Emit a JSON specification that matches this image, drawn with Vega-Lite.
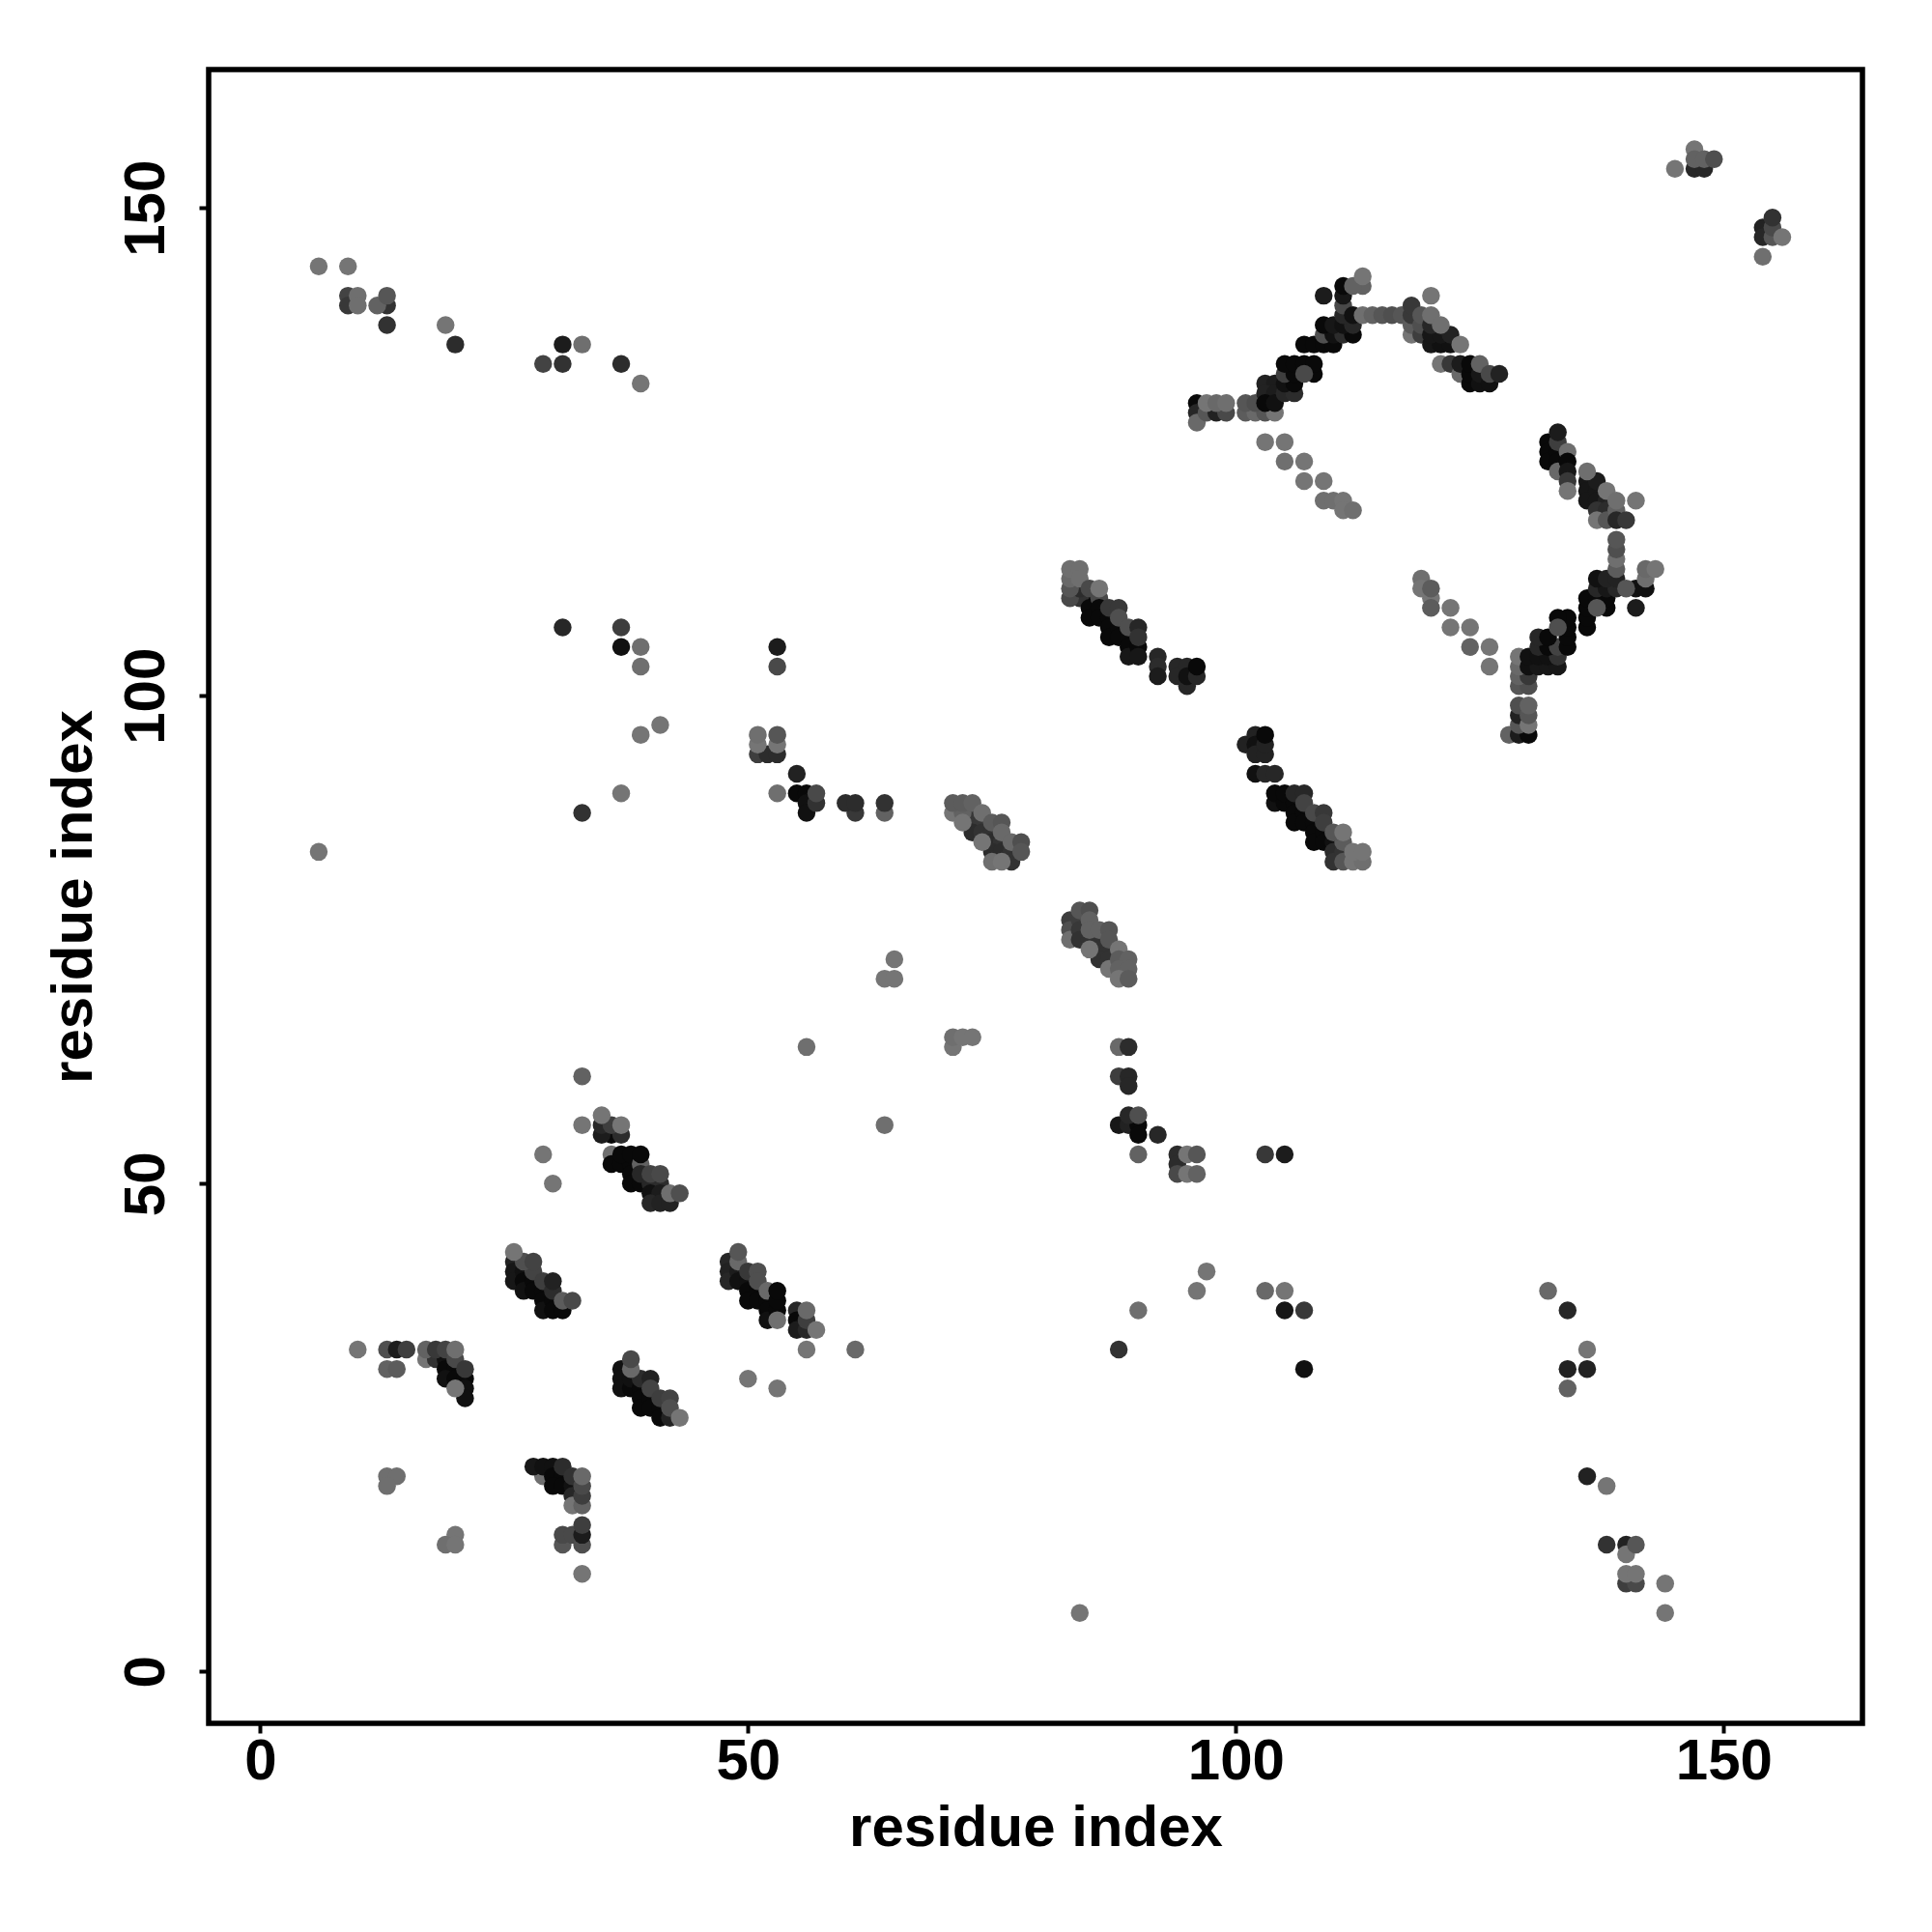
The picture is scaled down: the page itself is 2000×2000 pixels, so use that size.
{"$schema":"https://vega.github.io/schema/vega-lite/v6.json","width":1712,"height":1712,"autosize":"none","padding":{"left":216,"top":72,"right":72,"bottom":216},"background":"white","config":{"view":{"stroke":"black","strokeWidth":5.5},"font":"Liberation Sans"},
"data":{"values":[
{"x":6,"y":144,"p":0.05},{"x":9,"y":144,"p":0.05},{"x":9,"y":141,"p":0.45},{"x":9,"y":140,"p":0.55},{"x":10,"y":141,"p":0.1},{"x":10,"y":140,"p":0.1},{"x":13,"y":140,"p":0.6},{"x":13,"y":138,"p":0.6},{"x":12,"y":140,"p":0.2},{"x":13,"y":141,"p":0.3},{"x":19,"y":138,"p":0.05},{"x":20,"y":136,"p":0.65},{"x":29,"y":134,"p":0.45},{"x":31,"y":136,"p":0.8},{"x":31,"y":134,"p":0.6},{"x":33,"y":136,"p":0.1},{"x":37,"y":134,"p":0.65},{"x":39,"y":132,"p":0.05},
{"x":31,"y":107,"p":0.7},{"x":37,"y":107,"p":0.5},{"x":37,"y":105,"p":0.9},{"x":39,"y":105,"p":0.1},{"x":39,"y":103,"p":0.1},{"x":53,"y":105,"p":0.8},{"x":53,"y":103,"p":0.4},{"x":39,"y":96,"p":0.05},{"x":41,"y":97,"p":0.05},{"x":37,"y":90,"p":0.05},{"x":33,"y":88,"p":0.6},{"x":6,"y":84,"p":0.05},
{"x":51,"y":94,"p":0.5},{"x":52,"y":94,"p":0.65},{"x":53,"y":94,"p":0.65},{"x":51,"y":95,"p":0.05},{"x":53,"y":95,"p":0.05},{"x":51,"y":96,"p":0.1},{"x":53,"y":96,"p":0.3},
{"x":55,"y":92,"p":0.75},{"x":53,"y":90,"p":0.1},{"x":55,"y":90,"p":0.95},{"x":56,"y":90,"p":0.95},{"x":56,"y":89,"p":0.9},{"x":56,"y":88,"p":0.9},{"x":57,"y":89,"p":0.6},{"x":57,"y":90,"p":0.4},{"x":61,"y":88,"p":0.55},{"x":60,"y":89,"p":0.65},{"x":61,"y":89,"p":0.65},{"x":64,"y":88,"p":0.2},{"x":64,"y":89,"p":0.6},
{"x":73,"y":88,"p":0.6},{"x":73,"y":87,"p":0.55},{"x":74,"y":87,"p":0.55},{"x":73,"y":86,"p":0.65},{"x":74,"y":86,"p":0.6},{"x":75,"y":86,"p":0.6},{"x":75,"y":85,"p":0.65},{"x":76,"y":85,"p":0.6},{"x":75,"y":84,"p":0.65},{"x":76,"y":84,"p":0.65},{"x":77,"y":84,"p":0.6},{"x":77,"y":83,"p":0.6},{"x":71,"y":88,"p":0.05},{"x":72,"y":88,"p":0.2},{"x":72,"y":87,"p":0.05},{"x":71,"y":89,"p":0.25},{"x":72,"y":89,"p":0.25},{"x":73,"y":89,"p":0.2},{"x":74,"y":88,"p":0.1},{"x":75,"y":87,"p":0.25},{"x":76,"y":87,"p":0.3},{"x":76,"y":86,"p":0.15},{"x":74,"y":85,"p":0.05},{"x":77,"y":85,"p":0.15},{"x":78,"y":85,"p":0.35},{"x":78,"y":84,"p":0.3},{"x":75,"y":83,"p":0.1},{"x":76,"y":83,"p":0.05},
{"x":71,"y":64,"p":0.05},{"x":71,"y":65,"p":0.1},{"x":72,"y":65,"p":0.05},{"x":73,"y":65,"p":0.05},{"x":64,"y":71,"p":0.05},{"x":65,"y":71,"p":0.05},{"x":65,"y":73,"p":0.05},{"x":56,"y":64,"p":0.1},{"x":64,"y":56,"p":0.1},
{"x":83,"y":77,"p":0.5},{"x":83,"y":76,"p":0.35},{"x":83,"y":75,"p":0.1},{"x":84,"y":77,"p":0.5},{"x":84,"y":76,"p":0.55},{"x":84,"y":75,"p":0.6},{"x":85,"y":75,"p":0.6},{"x":86,"y":75,"p":0.6},{"x":86,"y":74,"p":0.6},{"x":87,"y":74,"p":0.6},{"x":86,"y":73,"p":0.6},{"x":87,"y":73,"p":0.6},{"x":84,"y":78,"p":0.3},{"x":85,"y":78,"p":0.35},{"x":85,"y":77,"p":0.2},{"x":85,"y":76,"p":0.2},{"x":86,"y":76,"p":0.2},{"x":87,"y":76,"p":0.3},{"x":87,"y":75,"p":0.3},{"x":85,"y":74,"p":0.05},{"x":88,"y":74,"p":0.05},{"x":87,"y":72,"p":0.05},{"x":88,"y":73,"p":0.25},{"x":89,"y":73,"p":0.2},{"x":88,"y":72,"p":0.2},{"x":89,"y":72,"p":0.2},{"x":88,"y":71,"p":0.05},{"x":89,"y":71,"p":0.25},
{"x":88,"y":64,"p":0.15},{"x":89,"y":64,"p":0.65},{"x":88,"y":61,"p":0.5},{"x":89,"y":61,"p":0.7},{"x":89,"y":60,"p":0.7},{"x":88,"y":56,"p":0.85},{"x":89,"y":56,"p":0.75},{"x":90,"y":56,"p":0.95},{"x":90,"y":55,"p":0.95},{"x":89,"y":57,"p":0.7},{"x":90,"y":57,"p":0.35},{"x":92,"y":55,"p":0.7},{"x":90,"y":53,"p":0.2},{"x":94,"y":53,"p":0.65},{"x":94,"y":52,"p":0.65},{"x":94,"y":51,"p":0.4},{"x":95,"y":53,"p":0.05},{"x":95,"y":51,"p":0.05},{"x":96,"y":53,"p":0.3},{"x":96,"y":51,"p":0.2},{"x":103,"y":53,"p":0.55},{"x":105,"y":53,"p":0.8},
{"x":97,"y":41,"p":0.05},{"x":96,"y":39,"p":0.05},{"x":90,"y":37,"p":0.1},{"x":88,"y":33,"p":0.6},{"x":103,"y":39,"p":0.15},{"x":105,"y":39,"p":0.05},{"x":105,"y":37,"p":0.85},{"x":107,"y":37,"p":0.55},{"x":107,"y":31,"p":0.9},{"x":132,"y":39,"p":0.15},{"x":134,"y":37,"p":0.7},{"x":134,"y":31,"p":0.75},{"x":136,"y":31,"p":0.75},{"x":136,"y":33,"p":0.05},{"x":134,"y":29,"p":0.2},{"x":136,"y":20,"p":0.75},{"x":138,"y":19,"p":0.05},{"x":138,"y":13,"p":0.6},{"x":140,"y":13,"p":0.75},{"x":140,"y":12,"p":0.05},{"x":141,"y":13,"p":0.3},{"x":140,"y":9,"p":0.5},{"x":141,"y":9,"p":0.4},{"x":140,"y":10,"p":0.05},{"x":141,"y":10,"p":0.05},{"x":144,"y":9,"p":0.05},{"x":144,"y":6,"p":0.05},{"x":84,"y":6,"p":0.05},
{"x":145,"y":154,"p":0.05},{"x":147,"y":154,"p":0.7},{"x":148,"y":154,"p":0.7},{"x":147,"y":156,"p":0.05},{"x":147,"y":155,"p":0.2},{"x":148,"y":155,"p":0.2},{"x":149,"y":155,"p":0.35},
{"x":154,"y":148,"p":0.75},{"x":154,"y":147,"p":0.7},{"x":155,"y":147,"p":0.3},{"x":155,"y":148,"p":0.4},{"x":155,"y":149,"p":0.6},{"x":156,"y":147,"p":0.05},{"x":154,"y":145,"p":0.1},
{"x":50,"y":30,"p":0.05},{"x":53,"y":29,"p":0.05},{"x":56,"y":33,"p":0.05},{"x":61,"y":33,"p":0.15},{"x":33,"y":61,"p":0.2},{"x":33,"y":56,"p":0.05},{"x":29,"y":53,"p":0.05},{"x":30,"y":50,"p":0.05},
{"x":36,"y":55,"p":0.95},{"x":35,"y":55,"p":0.8},{"x":35,"y":56,"p":0.7},{"x":37,"y":55,"p":0.65},{"x":36,"y":56,"p":0.5},{"x":37,"y":56,"p":0.05},{"x":35,"y":57,"p":0.05},
{"x":36,"y":53,"p":0.1},{"x":36,"y":52,"p":0.95},{"x":37,"y":52,"p":0.95},{"x":38,"y":52,"p":0.95},{"x":37,"y":53,"p":0.95},{"x":38,"y":53,"p":0.95},{"x":38,"y":51,"p":0.95},{"x":38,"y":50,"p":0.95},{"x":39,"y":50,"p":0.95},{"x":39,"y":52,"p":0.2},{"x":39,"y":53,"p":0.95},{"x":39,"y":51,"p":0.7},{"x":40,"y":50,"p":0.7},{"x":41,"y":50,"p":0.65},{"x":40,"y":49,"p":0.9},{"x":41,"y":49,"p":0.8},{"x":40,"y":48,"p":0.7},{"x":41,"y":48,"p":0.75},{"x":42,"y":48,"p":0.75},{"x":40,"y":51,"p":0.45},{"x":41,"y":51,"p":0.4},{"x":42,"y":49,"p":0.1},{"x":43,"y":49,"p":0.35},
{"x":48,"y":42,"p":0.7},{"x":48,"y":41,"p":0.75},{"x":48,"y":40,"p":0.7},{"x":49,"y":41,"p":0.8},{"x":49,"y":40,"p":0.9},{"x":50,"y":40,"p":0.9},{"x":50,"y":39,"p":0.95},{"x":50,"y":38,"p":0.95},{"x":51,"y":39,"p":0.95},{"x":51,"y":38,"p":0.95},{"x":52,"y":38,"p":0.95},{"x":52,"y":37,"p":0.95},{"x":52,"y":36,"p":0.9},{"x":53,"y":37,"p":0.95},{"x":53,"y":36,"p":0.1},{"x":49,"y":42,"p":0.15},{"x":50,"y":41,"p":0.55},{"x":51,"y":41,"p":0.35},{"x":51,"y":40,"p":0.35},{"x":49,"y":43,"p":0.3},{"x":52,"y":39,"p":0.15},{"x":53,"y":38,"p":0.95},{"x":53,"y":39,"p":0.95},
{"x":55,"y":37,"p":0.7},{"x":55,"y":36,"p":0.95},{"x":55,"y":35,"p":0.8},{"x":56,"y":35,"p":0.7},{"x":56,"y":36,"p":0.5},{"x":56,"y":37,"p":0.15},{"x":57,"y":35,"p":0.05},
{"x":37,"y":31,"p":0.9},{"x":37,"y":30,"p":0.9},{"x":37,"y":29,"p":0.9},{"x":38,"y":29,"p":0.95},{"x":38,"y":30,"p":0.9},{"x":39,"y":29,"p":0.95},{"x":39,"y":28,"p":0.95},{"x":39,"y":27,"p":0.95},{"x":40,"y":28,"p":0.95},{"x":40,"y":27,"p":0.95},{"x":41,"y":27,"p":0.95},{"x":41,"y":26,"p":0.95},{"x":42,"y":26,"p":0.75},{"x":39,"y":30,"p":0.65},{"x":40,"y":30,"p":0.75},{"x":40,"y":29,"p":0.45},{"x":41,"y":28,"p":0.5},{"x":42,"y":28,"p":0.45},{"x":42,"y":27,"p":0.35},{"x":38,"y":31,"p":0.15},{"x":38,"y":32,"p":0.4},{"x":43,"y":26,"p":0.05},
{"x":10,"y":33,"p":0.05},{"x":13,"y":33,"p":0.35},{"x":14,"y":33,"p":0.8},{"x":15,"y":33,"p":0.5},{"x":13,"y":31,"p":0.2},{"x":14,"y":31,"p":0.25},{"x":17,"y":32,"p":0.05},{"x":18,"y":32,"p":0.6},{"x":19,"y":32,"p":0.9},{"x":17,"y":33,"p":0.2},{"x":18,"y":33,"p":0.55},{"x":19,"y":33,"p":0.45},{"x":19,"y":31,"p":0.95},{"x":20,"y":31,"p":0.95},{"x":19,"y":30,"p":0.9},{"x":20,"y":30,"p":0.95},{"x":21,"y":30,"p":0.95},{"x":21,"y":29,"p":0.9},{"x":21,"y":28,"p":0.9},{"x":20,"y":29,"p":0.05},{"x":20,"y":32,"p":0.4},{"x":21,"y":31,"p":0.55},{"x":20,"y":33,"p":0.1},
{"x":26,"y":42,"p":0.75},{"x":26,"y":41,"p":0.85},{"x":26,"y":40,"p":0.85},{"x":27,"y":41,"p":0.9},{"x":27,"y":40,"p":0.95},{"x":27,"y":39,"p":0.9},{"x":28,"y":40,"p":0.95},{"x":28,"y":39,"p":0.95},{"x":29,"y":39,"p":0.95},{"x":29,"y":38,"p":0.95},{"x":29,"y":37,"p":0.9},{"x":30,"y":38,"p":0.95},{"x":30,"y":37,"p":0.95},{"x":31,"y":37,"p":0.95},{"x":28,"y":41,"p":0.45},{"x":29,"y":40,"p":0.5},{"x":30,"y":39,"p":0.65},{"x":30,"y":40,"p":0.75},{"x":27,"y":42,"p":0.35},{"x":28,"y":42,"p":0.45},{"x":26,"y":43,"p":0.05},{"x":31,"y":38,"p":0.25},{"x":32,"y":38,"p":0.4},
{"x":29,"y":20,"p":0.1},{"x":28,"y":21,"p":0.85},{"x":29,"y":21,"p":0.9},{"x":30,"y":21,"p":0.9},{"x":30,"y":20,"p":0.95},{"x":31,"y":20,"p":0.95},{"x":30,"y":19,"p":0.95},{"x":31,"y":19,"p":0.95},{"x":32,"y":19,"p":0.9},{"x":31,"y":21,"p":0.65},{"x":32,"y":20,"p":0.6},{"x":32,"y":18,"p":0.7},{"x":32,"y":17,"p":0.05},{"x":33,"y":17,"p":0.2},{"x":33,"y":18,"p":0.5},{"x":33,"y":19,"p":0.4},{"x":33,"y":20,"p":0.15},
{"x":31,"y":13,"p":0.3},{"x":31,"y":14,"p":0.4},{"x":32,"y":14,"p":0.4},{"x":33,"y":13,"p":0.35},{"x":33,"y":14,"p":0.8},{"x":33,"y":15,"p":0.5},{"x":33,"y":10,"p":0.05},{"x":13,"y":20,"p":0.1},{"x":14,"y":20,"p":0.1},{"x":13,"y":19,"p":0.1},{"x":20,"y":14,"p":0.05},{"x":19,"y":13,"p":0.1},{"x":20,"y":13,"p":0.05},
{"x":96,"y":130,"p":0.95},{"x":96,"y":129,"p":0.7},{"x":96,"y":128,"p":0.15},{"x":97,"y":129,"p":0.3},{"x":98,"y":129,"p":0.75},{"x":99,"y":129,"p":0.4},{"x":97,"y":130,"p":0.05},{"x":98,"y":130,"p":0.15},{"x":99,"y":130,"p":0.1},{"x":101,"y":129,"p":0.25},{"x":102,"y":129,"p":0.15},{"x":103,"y":129,"p":0.3},{"x":101,"y":130,"p":0.3},{"x":102,"y":130,"p":0.35},{"x":104,"y":129,"p":0.05},{"x":103,"y":126,"p":0.05},{"x":105,"y":126,"p":0.05},
{"x":103,"y":132,"p":0.75},{"x":104,"y":132,"p":0.8},{"x":103,"y":131,"p":0.75},{"x":104,"y":131,"p":0.8},{"x":103,"y":130,"p":0.95},{"x":104,"y":130,"p":0.9},{"x":105,"y":131,"p":0.7},{"x":106,"y":131,"p":0.65},{"x":105,"y":132,"p":0.9},{"x":106,"y":132,"p":0.95},{"x":105,"y":133,"p":0.5},{"x":106,"y":133,"p":0.95},{"x":108,"y":133,"p":0.95},{"x":105,"y":134,"p":0.95},{"x":106,"y":134,"p":0.95},{"x":107,"y":134,"p":0.95},{"x":108,"y":134,"p":0.95},{"x":107,"y":133,"p":0.4},
{"x":107,"y":136,"p":0.95},{"x":108,"y":136,"p":0.95},{"x":109,"y":136,"p":0.95},{"x":110,"y":136,"p":0.95},{"x":109,"y":137,"p":0.35},{"x":110,"y":137,"p":0.9},{"x":111,"y":137,"p":0.65},{"x":112,"y":137,"p":0.95},{"x":109,"y":138,"p":0.95},{"x":110,"y":138,"p":0.85},{"x":111,"y":138,"p":0.9},{"x":112,"y":138,"p":0.7},{"x":111,"y":139,"p":0.7},{"x":111,"y":140,"p":0.4},{"x":111,"y":141,"p":0.85},{"x":111,"y":142,"p":0.95},{"x":109,"y":141,"p":0.8},{"x":112,"y":139,"p":0.9},{"x":113,"y":139,"p":0.1},{"x":114,"y":139,"p":0.2},{"x":115,"y":139,"p":0.3},{"x":116,"y":139,"p":0.35},{"x":117,"y":139,"p":0.3},{"x":113,"y":142,"p":0.2},{"x":112,"y":142,"p":0.2},{"x":113,"y":143,"p":0.05},
{"x":118,"y":137,"p":0.05},{"x":118,"y":138,"p":0.25},{"x":118,"y":139,"p":0.55},{"x":118,"y":140,"p":0.55},{"x":120,"y":141,"p":0.05},{"x":119,"y":137,"p":0.5},{"x":119,"y":138,"p":0.35},{"x":119,"y":139,"p":0.3},{"x":120,"y":136,"p":0.85},{"x":121,"y":136,"p":0.9},{"x":122,"y":136,"p":0.9},{"x":120,"y":137,"p":0.85},{"x":121,"y":137,"p":0.85},{"x":122,"y":137,"p":0.75},{"x":120,"y":138,"p":0.7},{"x":120,"y":139,"p":0.1},{"x":121,"y":138,"p":0.1},{"x":123,"y":136,"p":0.05},
{"x":121,"y":134,"p":0.05},{"x":122,"y":134,"p":0.55},{"x":123,"y":133,"p":0.15},{"x":123,"y":134,"p":0.8},{"x":124,"y":132,"p":0.95},{"x":124,"y":133,"p":0.95},{"x":124,"y":134,"p":0.95},{"x":125,"y":132,"p":0.9},{"x":125,"y":133,"p":0.85},{"x":126,"y":132,"p":0.9},{"x":125,"y":134,"p":0.2},{"x":126,"y":133,"p":0.4},{"x":127,"y":133,"p":0.75},
{"x":105,"y":124,"p":0.1},{"x":107,"y":124,"p":0.05},{"x":107,"y":122,"p":0.05},{"x":109,"y":122,"p":0.05},{"x":109,"y":120,"p":0.1},{"x":110,"y":120,"p":0.1},{"x":111,"y":120,"p":0.05},{"x":111,"y":119,"p":0.05},{"x":112,"y":119,"p":0.1},
{"x":119,"y":112,"p":0.1},{"x":119,"y":111,"p":0.05},{"x":120,"y":110,"p":0.05},{"x":120,"y":109,"p":0.25},{"x":120,"y":111,"p":0.25},{"x":122,"y":109,"p":0.05},{"x":122,"y":107,"p":0.05},{"x":124,"y":107,"p":0.05},{"x":124,"y":105,"p":0.2},{"x":126,"y":105,"p":0.05},{"x":126,"y":103,"p":0.05},
{"x":128,"y":96,"p":0.2},{"x":129,"y":96,"p":0.8},{"x":130,"y":96,"p":0.95},{"x":129,"y":97,"p":0.3},{"x":129,"y":98,"p":0.75},{"x":129,"y":99,"p":0.35},{"x":130,"y":97,"p":0.05},{"x":130,"y":98,"p":0.3},{"x":130,"y":99,"p":0.2},
{"x":129,"y":101,"p":0.3},{"x":130,"y":101,"p":0.35},{"x":129,"y":102,"p":0.2},{"x":130,"y":102,"p":0.55},{"x":129,"y":103,"p":0.15},{"x":129,"y":104,"p":0.05},{"x":130,"y":103,"p":0.9},{"x":131,"y":103,"p":0.85},{"x":132,"y":103,"p":0.85},{"x":133,"y":103,"p":0.85},{"x":130,"y":104,"p":0.9},{"x":131,"y":104,"p":0.9},{"x":132,"y":104,"p":0.9},{"x":133,"y":104,"p":0.6},{"x":131,"y":105,"p":0.7},{"x":132,"y":105,"p":0.95},{"x":133,"y":105,"p":0.45},{"x":134,"y":105,"p":0.95},{"x":131,"y":106,"p":0.7},{"x":132,"y":106,"p":0.95},{"x":134,"y":106,"p":0.95},{"x":134,"y":107,"p":0.95},{"x":134,"y":108,"p":0.95},{"x":133,"y":108,"p":0.95},{"x":133,"y":107,"p":0.35},
{"x":136,"y":107,"p":0.95},{"x":136,"y":108,"p":0.95},{"x":136,"y":109,"p":0.95},{"x":136,"y":110,"p":0.95},{"x":138,"y":109,"p":0.95},{"x":137,"y":110,"p":0.95},{"x":138,"y":110,"p":0.95},{"x":137,"y":109,"p":0.3},{"x":137,"y":111,"p":0.7},{"x":138,"y":111,"p":0.85},{"x":139,"y":111,"p":0.7},{"x":137,"y":112,"p":0.9},{"x":138,"y":112,"p":0.75},{"x":139,"y":112,"p":0.75},{"x":141,"y":109,"p":0.8},{"x":141,"y":111,"p":0.9},{"x":142,"y":111,"p":0.9},{"x":140,"y":111,"p":0.3},{"x":142,"y":112,"p":0.1},{"x":142,"y":113,"p":0.15},{"x":143,"y":113,"p":0.05},
{"x":139,"y":113,"p":0.25},{"x":139,"y":114,"p":0.1},{"x":139,"y":115,"p":0.35},{"x":139,"y":116,"p":0.3},
{"x":132,"y":126,"p":0.95},{"x":132,"y":125,"p":0.95},{"x":132,"y":124,"p":0.95},{"x":133,"y":125,"p":0.95},{"x":133,"y":124,"p":0.95},{"x":133,"y":126,"p":0.5},{"x":133,"y":127,"p":0.8},{"x":134,"y":125,"p":0.1},{"x":133,"y":123,"p":0.15},{"x":134,"y":124,"p":0.95},{"x":134,"y":123,"p":0.85},{"x":134,"y":122,"p":0.55},{"x":134,"y":121,"p":0.05},
{"x":136,"y":122,"p":0.85},{"x":136,"y":121,"p":0.85},{"x":136,"y":120,"p":0.85},{"x":137,"y":121,"p":0.85},{"x":137,"y":120,"p":0.85},{"x":137,"y":122,"p":0.8},{"x":138,"y":120,"p":0.75},{"x":137,"y":119,"p":0.6},{"x":138,"y":119,"p":0.65},{"x":137,"y":118,"p":0.05},{"x":138,"y":118,"p":0.3},{"x":136,"y":123,"p":0.1},{"x":138,"y":121,"p":0.05},{"x":139,"y":119,"p":0.2},{"x":139,"y":120,"p":0.1},{"x":139,"y":118,"p":0.7},{"x":140,"y":118,"p":0.55},{"x":141,"y":120,"p":0.05},
{"x":85,"y":110,"p":0.95},{"x":84,"y":110,"p":0.6},{"x":83,"y":110,"p":0.4},{"x":84,"y":111,"p":0.65},{"x":83,"y":111,"p":0.3},{"x":83,"y":112,"p":0.15},{"x":83,"y":113,"p":0.1},{"x":84,"y":113,"p":0.1},{"x":84,"y":112,"p":0.1},{"x":85,"y":111,"p":0.4},{"x":85,"y":109,"p":0.95},{"x":85,"y":108,"p":0.95},{"x":86,"y":110,"p":0.4},{"x":86,"y":111,"p":0.05},{"x":86,"y":109,"p":0.95},{"x":86,"y":108,"p":0.95},{"x":87,"y":108,"p":0.95},{"x":87,"y":107,"p":0.95},{"x":87,"y":106,"p":0.95},{"x":88,"y":107,"p":0.95},{"x":88,"y":106,"p":0.95},{"x":89,"y":106,"p":0.95},{"x":89,"y":105,"p":0.95},{"x":89,"y":104,"p":0.85},{"x":90,"y":105,"p":0.95},{"x":90,"y":104,"p":0.85},{"x":87,"y":109,"p":0.55},{"x":88,"y":109,"p":0.55},{"x":88,"y":108,"p":0.35},{"x":89,"y":107,"p":0.35},{"x":90,"y":107,"p":0.7},{"x":90,"y":106,"p":0.6},
{"x":92,"y":104,"p":0.7},{"x":92,"y":103,"p":0.65},{"x":92,"y":102,"p":0.8},{"x":94,"y":103,"p":0.7},{"x":94,"y":102,"p":0.7},{"x":95,"y":101,"p":0.7},{"x":95,"y":103,"p":0.7},{"x":95,"y":102,"p":0.9},{"x":96,"y":102,"p":0.7},{"x":96,"y":103,"p":0.95},
{"x":101,"y":95,"p":0.75},{"x":102,"y":96,"p":0.75},{"x":102,"y":95,"p":0.9},{"x":102,"y":94,"p":0.75},{"x":103,"y":94,"p":0.75},{"x":103,"y":95,"p":0.75},{"x":103,"y":96,"p":0.95},{"x":102,"y":92,"p":0.9},{"x":103,"y":92,"p":0.7},{"x":104,"y":92,"p":0.7},
{"x":104,"y":89,"p":0.9},{"x":104,"y":90,"p":0.95},{"x":105,"y":89,"p":0.95},{"x":105,"y":90,"p":0.95},{"x":106,"y":89,"p":0.95},{"x":106,"y":88,"p":0.95},{"x":106,"y":87,"p":0.95},{"x":107,"y":88,"p":0.95},{"x":107,"y":87,"p":0.95},{"x":108,"y":87,"p":0.95},{"x":108,"y":86,"p":0.95},{"x":108,"y":85,"p":0.95},{"x":109,"y":86,"p":0.95},{"x":109,"y":85,"p":0.95},{"x":110,"y":85,"p":0.9},{"x":106,"y":90,"p":0.7},{"x":107,"y":90,"p":0.7},{"x":107,"y":89,"p":0.45},{"x":108,"y":88,"p":0.4},{"x":109,"y":88,"p":0.55},{"x":109,"y":87,"p":0.5},{"x":110,"y":84,"p":0.65},{"x":110,"y":83,"p":0.6},{"x":111,"y":84,"p":0.6},{"x":111,"y":83,"p":0.3},{"x":111,"y":85,"p":0.25},{"x":110,"y":86,"p":0.3},{"x":111,"y":86,"p":0.05},{"x":112,"y":83,"p":0.05},{"x":113,"y":83,"p":0.1},{"x":112,"y":84,"p":0.05},{"x":113,"y":84,"p":0.05}
]},
"mark":{"type":"point","shape":"circle","filled":true,"opacity":1,"size":342},
"encoding":{
"x":{"field":"x","type":"quantitative","scale":{"domain":[-5.28,164.22],"nice":false,"zero":false},"axis":{"values":[0,50,100,150],"grid":false,"title":"residue index","titleFont":"Liberation Sans","titleFontWeight":"bold","titleFontSize":60,"titleColor":"black","titlePadding":10,"labelFont":"Liberation Sans","labelFontWeight":"bold","labelFontSize":60,"labelColor":"black","labelPadding":0,"tickSize":10,"tickWidth":4,"tickColor":"black","domain":false,"labelOverlap":false}},
"y":{"field":"y","type":"quantitative","scale":{"domain":[-5.32,164.18],"nice":false,"zero":false},"axis":{"values":[0,50,100,150],"grid":false,"title":"residue index","titleFont":"Liberation Sans","titleFontWeight":"bold","titleFontSize":60,"titleColor":"black","titlePadding":14,"labelFont":"Liberation Sans","labelFontWeight":"bold","labelFontSize":60,"labelColor":"black","labelAngle":270,"labelAlign":"center","labelBaseline":"bottom","labelPadding":24,"tickSize":10,"tickWidth":4,"tickColor":"black","domain":false,"labelOverlap":false}},
"color":{"field":"p","type":"quantitative","scale":{"domain":[0,1],"range":["#7c7c7c","#000000"]},"legend":null}
}}
